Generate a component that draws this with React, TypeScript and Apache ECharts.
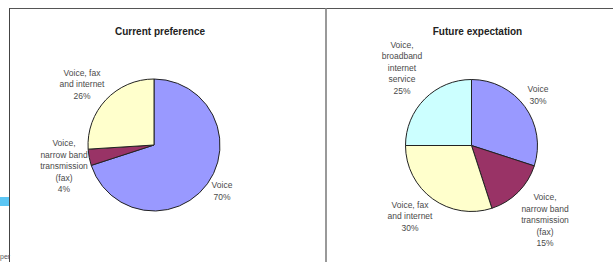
import React, { useEffect, useRef } from "react";
import * as echarts from "echarts";

const CURRENT_NAMES = ["Voice", "Voice,\nnarrow band\ntransmission\n(fax)", "Voice, fax\nand internet"];
const CURRENT_VALUES = [70, 4, 26];
const FUTURE_NAMES = [
  "Voice",
  "Voice,\nnarrow band\ntransmission\n(fax)",
  "Voice, fax\nand internet",
  "Voice,\nbroadband\ninternet\nservice",
];
const FUTURE_VALUES = [30, 15, 30, 25];
const TITLES = ["Current preference", "Future expectation"];

const COLORS_CURRENT = ["#9999FF", "#993366", "#FFFFCC"];
const COLORS_FUTURE = ["#9999FF", "#993366", "#FFFFCC", "#CCFFFF"];

const CENTERS: [number, number][] = [
  [154, 145],
  [471.5, 145.5],
];
const RADIUS = 66;
const LABEL_OFFSETS: [number, number][][] = [
  [
    [68, 46],
    [-90, 21],
    [-72, -61],
  ],
  [
    [66.5, -50.5],
    [73.5, 74.5],
    [-61.5, 70.5],
    [-69.5, -78],
  ],
];

export default function App() {
  const ref = useRef<HTMLDivElement>(null);
  useEffect(() => {
    if (!ref.current) return;
    const chart = echarts.init(ref.current, null, { renderer: "svg" });
    const labelStyle = {
      show: true,
      position: "outside" as const,
      formatter: (p: any) => `${p.name}\n${p.value}%`,
      fontFamily: "Liberation Sans, Arial, sans-serif",
      fontSize: 8.5,
      lineHeight: 11.5,
      color: "#4a4a4a",
      align: "center" as const,
    };
    const makeSeries = (idx: number, names: string[], values: number[], colors: string[]) => ({
      type: "pie",
      center: CENTERS[idx],
      radius: RADIUS,
      startAngle: 90,
      clockwise: true,
      avoidLabelOverlap: false,
      silent: true,
      itemStyle: { borderColor: "#222", borderWidth: 1 },
      label: labelStyle,
      labelLine: { show: false },
      labelLayout: (params: any) => {
        const off = LABEL_OFFSETS[idx][params.dataIndex];
        return {
          x: CENTERS[idx][0] + off[0],
          y: CENTERS[idx][1] + off[1],
          align: "center",
          verticalAlign: "middle",
        };
      },
      data: values.map((v, i) => ({ name: names[i], value: v, itemStyle: { color: colors[i] } })),
    });
    chart.setOption({
      animation: false,
      backgroundColor: "#ffffff",
      title: TITLES.map((t, i) => ({
        text: t,
        left: CENTERS[i][0] + 1,
        top: 21,
        textAlign: "center",
        textStyle: {
          fontFamily: "Liberation Sans, Arial, sans-serif",
          fontSize: 10,
          fontWeight: "bold",
          color: "#222",
        },
      })),
      graphic: [
        { type: "line", shape: { x1: 9, y1: 8.5, x2: 613, y2: 8.5 }, style: { stroke: "#555", lineWidth: 1 } },
        { type: "line", shape: { x1: 9.5, y1: 8.5, x2: 9.5, y2: 262 }, style: { stroke: "#444", lineWidth: 1 } },
        { type: "line", shape: { x1: 326, y1: 8.5, x2: 326, y2: 262 }, style: { stroke: "#999", lineWidth: 2 } },
        { type: "rect", shape: { x: 0, y: 197, width: 9, height: 9 }, style: { fill: "#5CC6F4" } },
        {
          type: "text",
          x: 0,
          y: 256,
          style: {
            text: "per",
            fontSize: 7,
            fontFamily: "Liberation Sans, Arial, sans-serif",
            fill: "#555",
            align: "left",
            verticalAlign: "middle",
          },
        },
      ],
      series: [
        makeSeries(0, CURRENT_NAMES, CURRENT_VALUES, COLORS_CURRENT),
        makeSeries(1, FUTURE_NAMES, FUTURE_VALUES, COLORS_FUTURE),
      ],
    });
    return () => chart.dispose();
  }, []);
  return (
    <div
      ref={ref}
      style={{ position: "fixed", left: 0, top: 0, width: 613, height: 262, background: "#fff" }}
    />
  );
}
